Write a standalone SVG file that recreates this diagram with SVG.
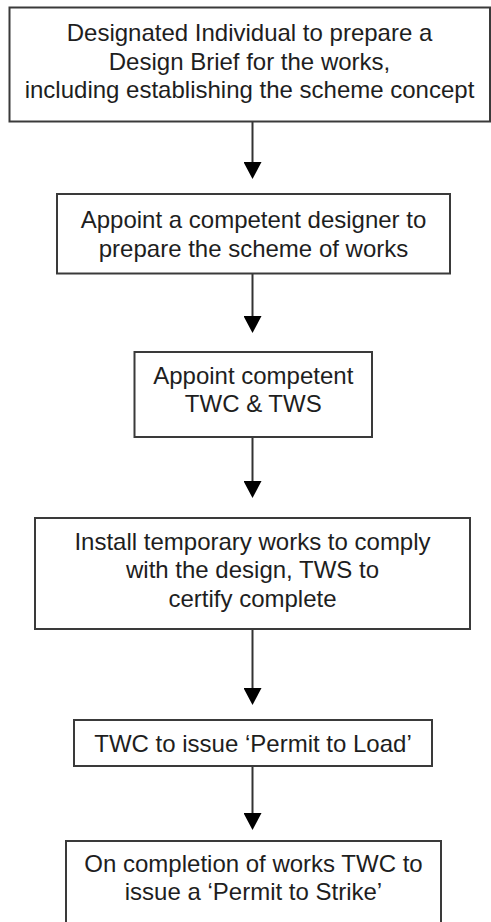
<svg xmlns="http://www.w3.org/2000/svg" width="491" height="922" viewBox="0 0 491 922">
<style>
.box{fill:#fff;stroke:#3a3a3a;stroke-width:2}
.t{font-family:"Liberation Sans",Arial,sans-serif;font-size:24px;fill:#1e1e1e;text-anchor:middle}
.c{stroke:#333;stroke-width:2;fill:none}
</style>
<defs>
<marker id="ah" viewBox="0 0 17 18" refX="0" refY="9" markerWidth="17" markerHeight="18" markerUnits="userSpaceOnUse" orient="auto">
<path d="M0,0 L17,9 L0,18 Z" fill="#000"/>
</marker>
</defs>
<rect width="491" height="922" fill="#fff"/>
<g id="connectors">
<line class="c" x1="252.5" y1="122" x2="252.5" y2="162" marker-end="url(#ah)"/>
<line class="c" x1="252.5" y1="274" x2="252.5" y2="316" marker-end="url(#ah)"/>
<line class="c" x1="252.5" y1="437" x2="252.5" y2="481" marker-end="url(#ah)"/>
<line class="c" x1="252.5" y1="629" x2="252.5" y2="688" marker-end="url(#ah)"/>
<line class="c" x1="252.5" y1="766" x2="252.5" y2="813" marker-end="url(#ah)"/>
</g>
<g id="n1">
<rect class="box" x="9.5" y="7.5" width="480.5" height="114"/>
<text class="t" x="249.5" y="41">Designated Individual to prepare a</text>
<text class="t" x="249.5" y="69.5">Design Brief for the works,</text>
<text class="t" x="249.5" y="98">including establishing the scheme concept</text>
</g>
<g id="n2">
<rect class="box" x="57" y="194" width="393" height="79.5"/>
<text class="t" x="253.5" y="228.3">Appoint a competent designer to</text>
<text class="t" x="253.5" y="256.8">prepare the scheme of works</text>
</g>
<g id="n3">
<rect class="box" x="134.5" y="352" width="237.5" height="85"/>
<text class="t" x="253.25" y="383.5">Appoint competent</text>
<text class="t" x="253.25" y="411.5">TWC &amp; TWS</text>
</g>
<g id="n4">
<rect class="box" x="35" y="518" width="435" height="111"/>
<text class="t" x="252.5" y="550">Install temporary works to comply</text>
<text class="t" x="252.5" y="578.3">with the design, TWS to</text>
<text class="t" x="252.5" y="606.6">certify complete</text>
</g>
<g id="n5">
<rect class="box" x="74" y="720" width="358" height="46"/>
<text class="t" x="253" y="751.5">TWC to issue ‘Permit to Load’</text>
</g>
<g id="n6">
<rect class="box" x="66" y="841" width="375" height="100"/>
<text class="t" x="253.5" y="872">On completion of works TWC to</text>
<text class="t" x="253.5" y="900">issue a ‘Permit to Strike’</text>
</g>
</svg>
